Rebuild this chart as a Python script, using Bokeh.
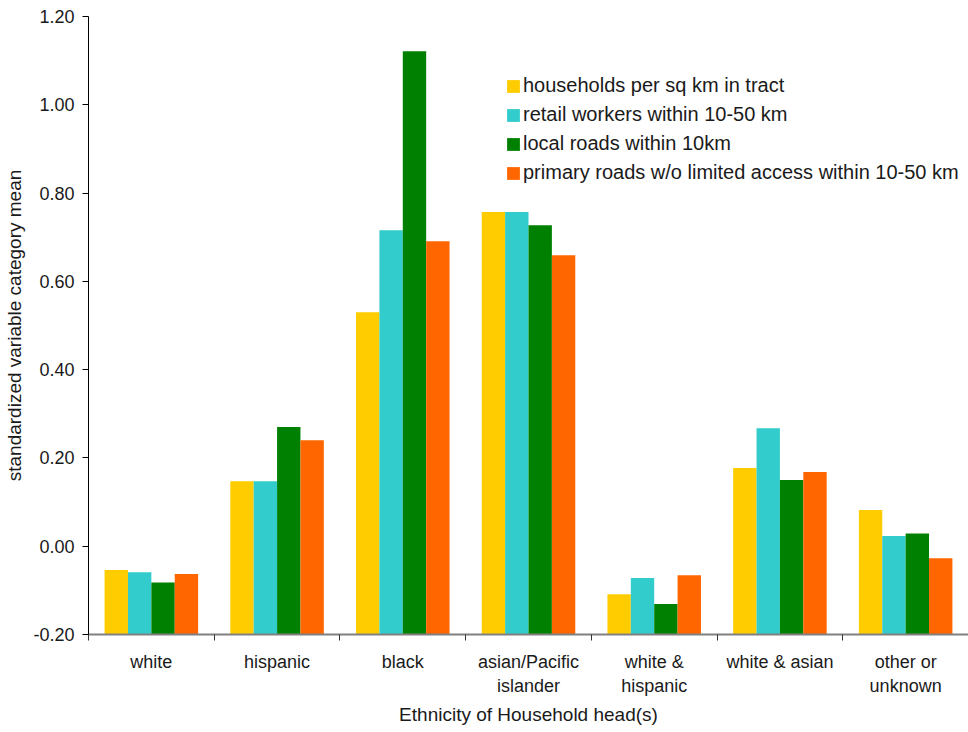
import numpy as np
from bokeh.plotting import figure
from bokeh.models import FixedTicker, Range1d, Legend, LegendItem, NumeralTickFormatter, Title
from bokeh.embed import file_html
from bokeh.resources import INLINE

categories = ["white", "hispanic", "black", "asian/Pacific\nislander",
              "white &\nhispanic", "white & asian", "other or\nunknown"]
series_names = ["households per sq km in tract",
                "retail workers within 10-50 km",
                "local roads within 10km",
                "primary roads w/o limited access within 10-50 km"]
households = [-0.054, 0.147, 0.530, 0.757, -0.109, 0.177, 0.082]
retail = [-0.059, 0.147, 0.716, 0.757, -0.072, 0.267, 0.023]
local_roads = [-0.082, 0.270, 1.121, 0.727, -0.131, 0.150, 0.029]
primary_roads = [-0.063, 0.240, 0.691, 0.659, -0.066, 0.168, -0.027]
colors = ["#FFCC00", "#33CCCC", "#008000", "#FF6600"]
y_ticks = [-0.2, 0.0, 0.2, 0.4, 0.6, 0.8, 1.0, 1.2]
x_title = "Ethnicity of Household head(s)"
y_title = "standardized variable category mean"

FONT = "Liberation Sans"
n = len(categories)
centers = np.arange(n) + 0.5

p = figure(width=968, height=732, output_backend="svg", toolbar_location=None,
           x_range=Range1d(0, n), y_range=Range1d(-0.2, 1.2),
           min_border_left=88, min_border_right=0, min_border_top=16, min_border_bottom=98)
p.outline_line_color = None
p.grid.visible = False

bw = 0.186
series = [households, retail, local_roads, primary_roads]
items = []
for i, (vals, col, name) in enumerate(zip(series, colors, series_names)):
    xs = centers + (i - 1.5) * bw
    r = p.vbar(x=xs, top=vals, bottom=-0.2, width=bw, fill_color=col, line_color=None)
    items.append(LegendItem(label=name, renderers=[r]))

legend = Legend(items=items, location=(417, 450), padding=0, margin=0,
                glyph_width=16, glyph_height=16, label_standoff=2, spacing=6,
                label_height=20, label_text_font=FONT, label_text_font_size="20px",
                label_text_color="#1a1a1a", border_line_color=None, background_fill_alpha=0)
p.add_layout(legend)

xa = p.xaxis[0]
xa.ticker = FixedTicker(ticks=list(centers), minor_ticks=list(range(n + 1)))
xa.major_label_overrides = {float(c): lab for c, lab in zip(centers, categories)}
xa.major_tick_line_color = None
xa.minor_tick_line_color = "#333333"
xa.minor_tick_out = 6
xa.minor_tick_in = 0
xa.axis_line_color = "#808080"
xa.axis_line_width = 2
xa.major_label_text_font = FONT
xa.major_label_text_font_size = "18px"
xa.major_label_text_color = "#1a1a1a"
xa.major_label_standoff = 11

p.add_layout(Title(text=x_title, align="center", text_font=FONT, text_font_size="19px",
                   text_font_style="normal", text_color="#1a1a1a", standoff=6, offset=4),
             "below")

ya = p.yaxis[0]
ya.ticker = FixedTicker(ticks=y_ticks, minor_ticks=[])
ya.formatter = NumeralTickFormatter(format="0.00")
ya.axis_line_color = "#000000"
ya.major_tick_line_color = "#000000"
ya.major_tick_out = 6
ya.major_tick_in = 0
ya.minor_tick_line_color = None
ya.major_label_text_font = FONT
ya.major_label_text_font_size = "18px"
ya.major_label_text_color = "#1a1a1a"
ya.major_label_standoff = 8
ya.axis_label = y_title
ya.axis_label_text_font = FONT
ya.axis_label_text_font_size = "19px"
ya.axis_label_text_font_style = "normal"
ya.axis_label_text_color = "#1a1a1a"
ya.axis_label_standoff = 5

open("out.html", "w").write(file_html(p, INLINE))
